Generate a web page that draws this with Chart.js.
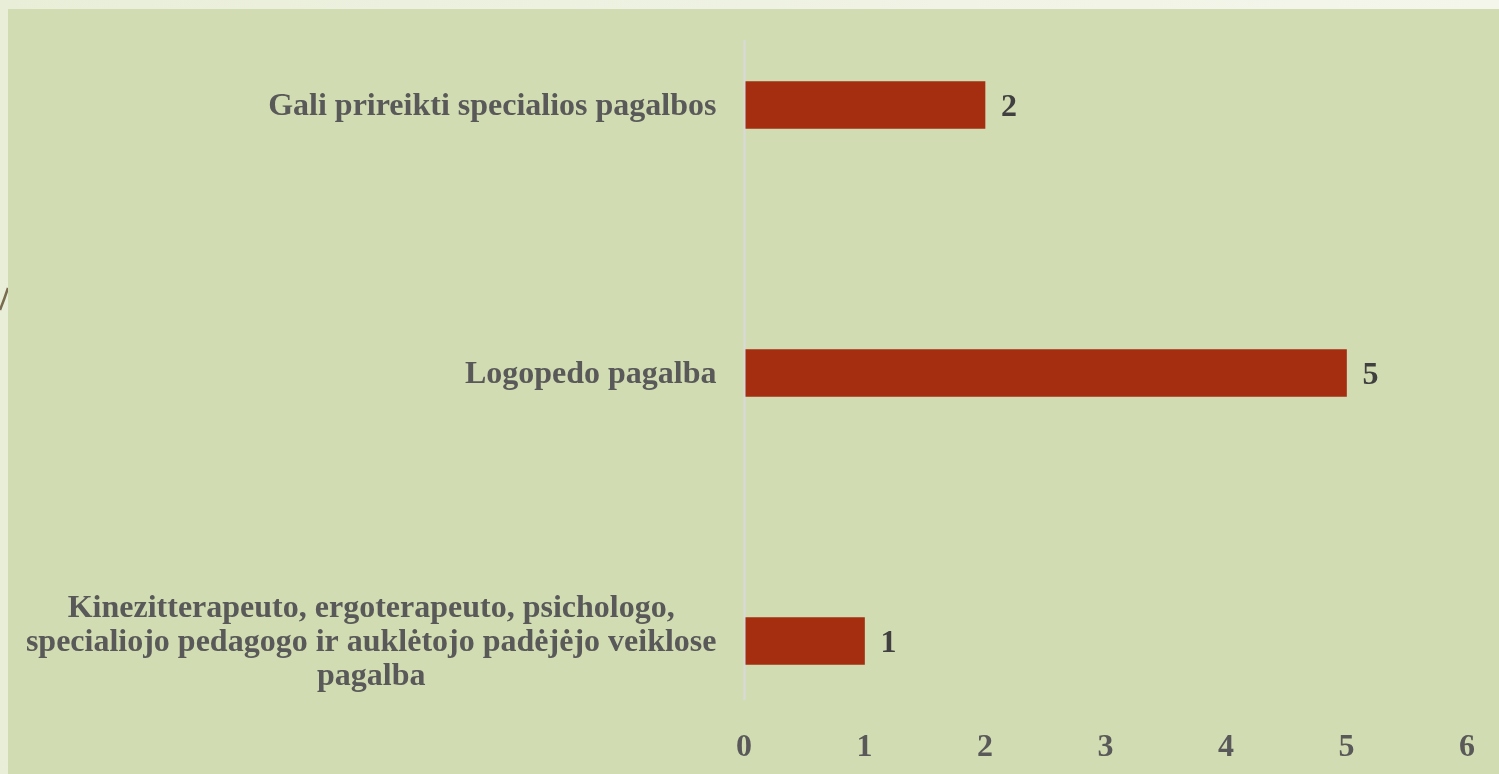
<!DOCTYPE html>
<html>
<head>
<meta charset="utf-8">
<script src="https://cdn.jsdelivr.net/npm/chart.js@4/dist/chart.umd.min.js"></script>
<style>
    html, body { margin: 0; padding: 0; }
    body { width: 1499px; height: 774px; background: linear-gradient(90deg, #e9eed9, #f4f6ec); position: relative; overflow: hidden; }
    #panel { position: absolute; left: 8px; top: 9px; width: 1491px; height: 765px; background: #d2dcb2; }
    #deco { position: absolute; left: 0; top: 270px; }
</style>
</head>
<body>
<svg id="deco" width="10" height="60"><path d="M0 40 Q4 30 8 18" stroke="#7a6a4e" stroke-width="2.5" fill="none"/></svg>
<div id="panel"><canvas id="helpChart"></canvas></div>
<script>
// Categories (top to bottom) and values
const categories = [
    ['Gali prireikti specialios pagalbos'],
    ['Logopedo pagalba'],
    ['Kinezitterapeuto, ergoterapeuto, psichologo,', 'specialiojo pedagogo ir auklėtojo padėjėjo veiklose', 'pagalba']
];
const values = [2, 5, 1];
const xTicks = [0, 1, 2, 3, 4, 5, 6];

const fontFamily = '"Liberation Serif", "Times New Roman", serif';
const labelFont = 'bold 32px ' + fontFamily;

// Draws centered multi-line category labels (block right aligned), value labels and the zero line
const customDraw = {
    id: 'customDraw',
    afterDatasetsDraw(chart) {
        const ctx = chart.ctx;
        const yScale = chart.scales.y;
        const xScale = chart.scales.x;
        ctx.save();

        // zero axis line
        const x0 = Math.round(xScale.getPixelForValue(0)) + 0.5;
        ctx.strokeStyle = '#d9d9d9';
        ctx.lineWidth = 2;
        ctx.beginPath();
        ctx.moveTo(x0, 31);
        ctx.lineTo(x0, 691);
        ctx.stroke();

        // category labels
        ctx.font = labelFont;
        ctx.fillStyle = '#595959';
        ctx.textAlign = 'center';
        ctx.textBaseline = 'middle';
        const right = x0 - 28;
        const lineH = 34;
        categories.forEach((lines, i) => {
            const cy = yScale.getPixelForValue(i) + 2;
            const w = Math.max(...lines.map(l => ctx.measureText(l).width));
            const cx = right - w / 2;
            lines.forEach((l, j) => {
                ctx.fillText(l, cx, cy + (j - (lines.length - 1) / 2) * lineH);
            });
        });

        // value labels
        ctx.fillStyle = '#404040';
        ctx.textAlign = 'left';
        chart.getDatasetMeta(0).data.forEach((bar, i) => {
            ctx.fillText(String(values[i]), bar.x + 16, bar.y + 3);
        });
        ctx.restore();
    }
};

const helpChart = new Chart(document.getElementById('helpChart').getContext('2d'), {
    type: 'bar',
    data: {
        labels: categories.map(c => c.join(' ')),
        datasets: [{
            data: values,
            backgroundColor: '#a52e10',
            borderWidth: 0,
            barThickness: 47,
            clip: false
        }]
    },
    options: {
        indexAxis: 'y',
        responsive: true,
        maintainAspectRatio: false,
        animation: false,
        layout: { padding: { top: 96, right: 32, left: 0, bottom: 0 } },
        plugins: {
            legend: { display: false },
            tooltip: { enabled: false }
        },
        scales: {
            x: {
                min: 0,
                max: 6,
                afterBuildTicks: scale => { scale.ticks = xTicks.map(v => ({ value: v })); },
                grid: { display: true, drawOnChartArea: false, drawTicks: true, tickLength: 80, color: 'transparent' },
                border: { display: false },
                ticks: {
                    color: '#595959',
                    font: { family: fontFamily, size: 32, weight: 'bold' },
                    padding: 8,
                    maxRotation: 0
                },
                afterFit: scale => { scale.height = 133; }
            },
            y: {
                offset: false,
                grid: { display: false, drawTicks: false },
                border: { display: false },
                ticks: { display: false },
                afterFit: scale => { scale.width = 736; }
            }
        }
    },
    plugins: [customDraw]
});
</script>
</body>
</html>
